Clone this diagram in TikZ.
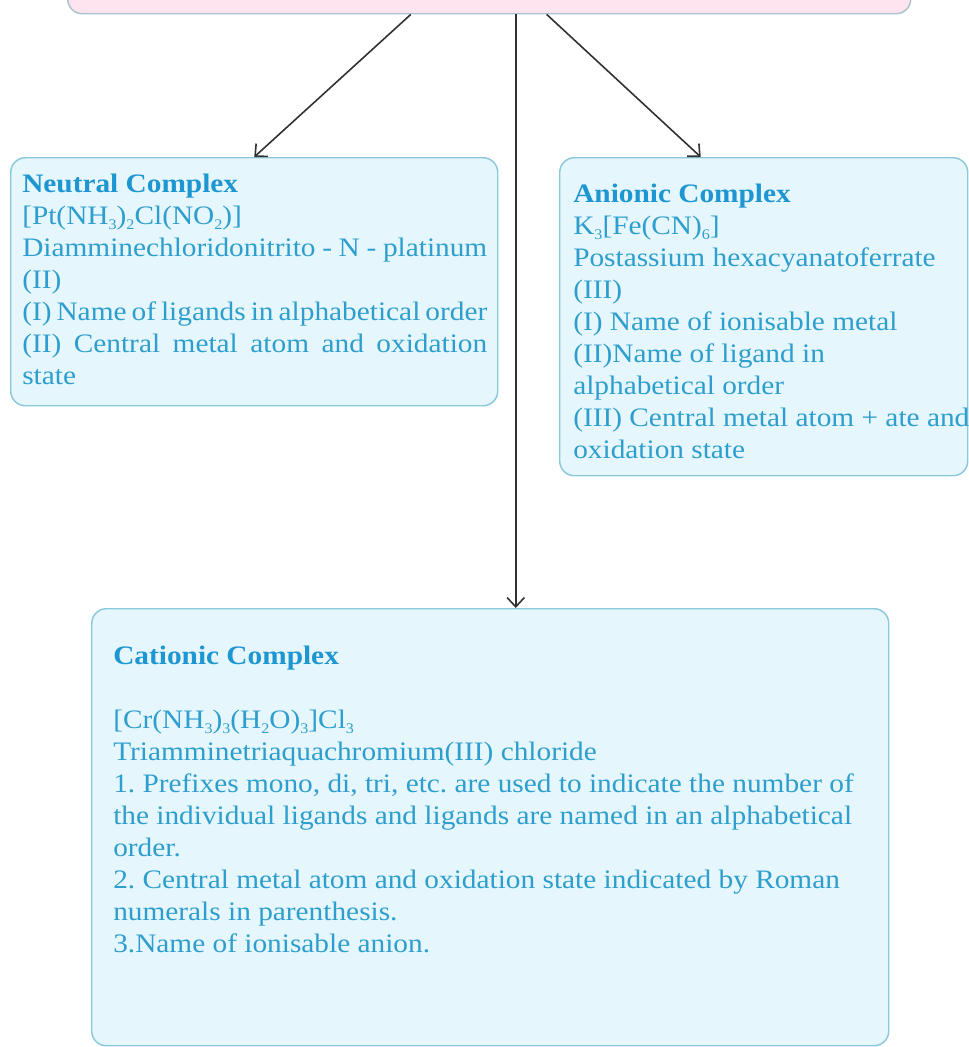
\documentclass[tikz,border=0pt]{standalone}
\usepackage{fontspec}
\setmainfont[FakeStretch=1.1]{Liberation Serif}
\usetikzlibrary{arrows.meta}
\definecolor{boxfill}{RGB}{229,246,252}
\definecolor{boxline}{RGB}{140,200,220}
\definecolor{topfill}{RGB}{253,228,238}
\definecolor{topline}{RGB}{170,196,206}
\definecolor{titlec}{RGB}{30,150,210}
\definecolor{bodyc}{RGB}{45,158,205}
\definecolor{arrc}{RGB}{50,50,50}
\newcommand\jl[1]{\makebox[348.75pt][s]{#1}}
\newcommand\sbs[1]{\raisebox{-0.35ex}{\fontsize{11pt}{11pt}\selectfont #1}}
\frenchspacing
\begin{document}
\begin{tikzpicture}[x=0.75pt,y=-0.75pt,
  box/.style={draw=boxline, fill=boxfill, line width=1.1pt, rounded corners=11pt, inner sep=0pt, anchor=north west},
  txt/.style={anchor=north west, inner sep=0pt, text=bodyc, align=left, font=\fontsize{20pt}{24pt}\selectfont\frenchspacing},
  arr/.style={draw=arrc, line width=1.2pt, -{Straight Barb[length=7pt,width=13pt]}}]
\clip (0,0) rectangle (969,1047);
\node[box, draw=topline, fill=topfill, minimum width=632.25pt, minimum height=39.75pt] (top) at (67,-40) {};
\node[box, minimum width=365.25pt, minimum height=186pt] (neu) at (10,157) {};
\node[box, minimum width=306pt, minimum height=238.5pt] (ani) at (559,157) {};
\node[box, minimum width=597.75pt, minimum height=327.75pt] (cat) at (91,608) {};
\node[txt] (neut) at (22,174) {{\color{titlec}\bfseries Neutral Complex}\\
{}[Pt(NH\sbs{3})\sbs{2}Cl(NO\sbs{2})]\\
\jl{Diamminechloridonitrito - N - platinum}\\
(II)\\
\jl{(I) Name of ligands in alphabetical order}\\
\jl{(II) Central metal atom and oxidation}\\
state};
\node[txt] (anit) at (573,184) {{\color{titlec}\bfseries Anionic Complex}\\
K\sbs{3}[Fe(CN)\sbs{6}]\\
Postassium hexacyanatoferrate\\
(III)\\
(I) Name of ionisable metal\\
(II)Name of ligand in\\
alphabetical order\\
(III) Central metal atom + ate and\\
oxidation state};
\node[txt] (catt) at (113,646) {{\color{titlec}\bfseries Cationic Complex}\\[24pt]
{}[Cr(NH\sbs{3})\sbs{3}(H\sbs{2}O)\sbs{3}]Cl\sbs{3}\\
Triamminetriaquachromium(III) chloride\\
1. Prefixes mono, di, tri, etc. are used to indicate the number of\\
the individual ligands and ligands are named in an alphabetical\\
order.\\
2. Central metal atom and oxidation state indicated by Roman\\
numerals in parenthesis.\\
3.Name of ionisable anion.};
\draw[arr] ([xshift=-58.875pt]top.south) -- (neu.north);
\draw[arr] ([xshift=19.875pt]top.south) -- ([xshift=19.125pt]cat.north);
\draw[arr] ([xshift=43.125pt]top.south) -- ([xshift=-47.25pt]ani.north);
\end{tikzpicture}
\end{document}
